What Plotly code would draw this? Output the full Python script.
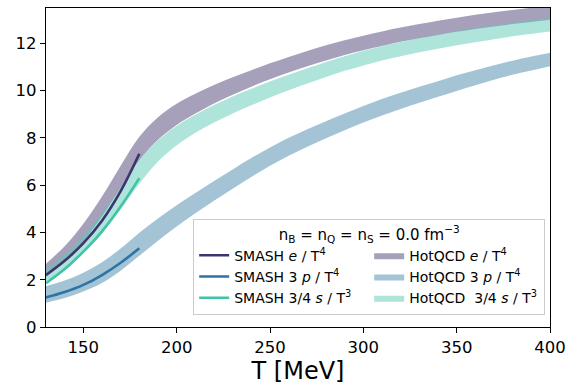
import plotly.graph_objects as go

# HotQCD lattice results: temperatures, central values and half-widths of the error bands
T_lat = [130, 140, 150, 160, 170, 180, 190, 200, 210, 220, 230, 240, 250, 260,
         270, 280, 290, 300, 310, 320, 330, 340, 350, 360, 370, 380, 390, 400]
e_lat = [2.40, 3.10, 4.00, 5.10, 6.35, 7.55, 8.40, 9.00, 9.45, 9.85, 10.20, 10.52, 10.82, 11.10,
         11.36, 11.60, 11.82, 12.02, 12.20, 12.37, 12.52, 12.66, 12.79, 12.91, 13.02, 13.12, 13.21, 13.30]
e_err = [0.28, 0.32, 0.37, 0.42, 0.47, 0.50, 0.48, 0.45, 0.42, 0.39, 0.37, 0.35, 0.34, 0.33,
         0.32, 0.32, 0.31, 0.31, 0.31, 0.30, 0.30, 0.30, 0.30, 0.30, 0.30, 0.30, 0.30, 0.30]
p3_lat = [1.38, 1.60, 1.90, 2.30, 2.85, 3.50, 4.12, 4.70, 5.24, 5.76, 6.26, 6.75, 7.21, 7.63,
          8.00, 8.35, 8.68, 9.00, 9.30, 9.57, 9.83, 10.07, 10.32, 10.55, 10.77, 10.97, 11.15, 11.32]
p3_err = [0.35, 0.37, 0.40, 0.44, 0.47, 0.49, 0.47, 0.45, 0.43, 0.42, 0.41, 0.40, 0.39, 0.38,
          0.37, 0.36, 0.35, 0.35, 0.35, 0.34, 0.34, 0.33, 0.33, 0.32, 0.31, 0.30, 0.30, 0.29]
s_lat = [2.15, 2.75, 3.50, 4.40, 5.45, 6.55, 7.45, 8.10, 8.60, 9.02, 9.39, 9.73, 10.05, 10.35,
         10.63, 10.90, 11.15, 11.38, 11.58, 11.76, 11.93, 12.08, 12.22, 12.35, 12.47, 12.59, 12.70, 12.80]
s_err = [0.30, 0.33, 0.38, 0.43, 0.47, 0.49, 0.45, 0.41, 0.38, 0.37, 0.36, 0.35, 0.34, 0.33,
         0.32, 0.32, 0.31, 0.31, 0.30, 0.30, 0.30, 0.30, 0.30, 0.30, 0.29, 0.29, 0.29, 0.29]

# SMASH hadron resonance gas
T_sm = [130, 140, 150, 160, 170, 180]
e_sm = [2.20, 2.80, 3.55, 4.50, 5.75, 7.33]
p3_sm = [1.25, 1.48, 1.78, 2.20, 2.72, 3.33]
s_sm = [1.85, 2.45, 3.19, 4.05, 5.10, 6.30]

x_ticks = [150, 200, 250, 300, 350, 400]
y_ticks = [0, 2, 4, 6, 8, 10, 12]

FONT = "DejaVu Sans"

fig = go.Figure()

bands = [
    ("HotQCD <i>e</i> / T<sup>4</sup>", e_lat, e_err, "rgba(77,65,119,0.5)", 2),
    ("HotQCD 3 <i>p</i> / T<sup>4</sup>", p3_lat, p3_err, "rgba(73,137,173,0.5)", 4),
    ("HotQCD  3/4 <i>s</i> / T<sup>3</sup>", s_lat, s_err, "rgba(93,201,179,0.5)", 6),
]
for name, c, err, col, rank in bands:
    lo = [v - d for v, d in zip(c, err)]
    hi = [v + d for v, d in zip(c, err)]
    fig.add_trace(go.Scatter(x=T_lat, y=lo, mode="lines", line=dict(width=0, shape="spline"),
                             showlegend=False, hoverinfo="skip"))
    fig.add_trace(go.Scatter(x=T_lat, y=hi, mode="lines", line=dict(width=0, shape="spline"),
                             fill="tonexty", fillcolor=col, name=name, legendrank=rank))

lines = [
    ("SMASH <i>e</i> / T<sup>4</sup>", e_sm, "#3c3470", 1),
    ("SMASH 3 <i>p</i> / T<sup>4</sup>", p3_sm, "#2c73a6", 3),
    ("SMASH 3/4 <i>s</i> / T<sup>3</sup>", s_sm, "#3fc4a6", 5),
]
for name, v, col, rank in lines:
    fig.add_trace(go.Scatter(x=T_sm, y=v, mode="lines", line=dict(color=col, width=2.6, shape="spline"),
                             name=name, legendrank=rank))

axis_common = dict(showline=True, linecolor="black", linewidth=1.2, mirror=True,
                   ticks="outside", ticklen=5, tickcolor="black", tickwidth=1,
                   showgrid=False, zeroline=False,
                   tickfont=dict(family=FONT, size=16.5, color="black"))

fig.update_xaxes(range=[130, 400], tickvals=x_ticks,
                 title=dict(text="T [MeV]", font=dict(family=FONT, size=24, color="black"), standoff=2),
                 **axis_common)
fig.update_yaxes(range=[0, 13.5], tickvals=y_ticks, **axis_common)

fig.update_layout(
    width=579, height=387,
    margin=dict(l=46, r=29, t=8, b=60),
    plot_bgcolor="white", paper_bgcolor="white",
    font=dict(family=FONT, color="black"),
    legend=dict(
        x=0.292, y=0.338, xanchor="left", yanchor="top",
        orientation="h", entrywidth=130, entrywidthmode="pixels",
        traceorder="normal",
        bgcolor="rgba(255,255,255,0.85)", bordercolor="#cccccc", borderwidth=1,
        font=dict(family=FONT, size=14, color="black"),
        title=dict(text="n<sub>B</sub> = n<sub>Q</sub> = n<sub>S</sub> = 0.0 fm<sup>−3</sup>",
                   side="top center", font=dict(family=FONT, size=15)),
        itemwidth=30,
    ),
)

fig.write_html("out.html")
